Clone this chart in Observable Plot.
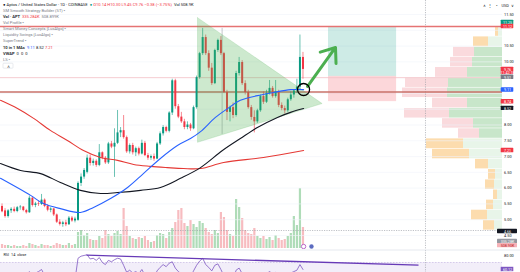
<!DOCTYPE html>
<html><head><meta charset="utf-8">
<script src="https://cdn.jsdelivr.net/npm/d3@7"></script>
<script src="https://cdn.jsdelivr.net/npm/@observablehq/plot@0.6"></script>
<style>
html,body{margin:0;padding:0;background:#fff}
#wrap{position:relative;width:520px;height:272px;overflow:hidden;background:#fff}
#wrap > div{position:absolute;overflow:hidden}
#wrap svg{display:block}
</style></head><body><div id="wrap"></div>
<script>
// ---------- DATA ----------
// daily candles [open, high, low, close]
const ohlc = [
[5.42,5.50,5.22,5.25],[5.28,5.35,5.05,5.10],[5.10,5.32,5.05,5.28],[5.28,5.38,5.20,5.33],[5.33,5.40,5.22,5.26],
[5.26,5.42,5.22,5.38],[5.38,5.45,5.30,5.40],[5.40,5.42,5.25,5.29],[5.29,5.33,5.18,5.22],[5.22,5.75,5.20,5.68],
[5.68,5.72,5.40,5.45],[5.45,5.55,5.38,5.50],[5.50,5.58,5.42,5.48],[5.48,5.80,5.45,5.62],[5.62,5.66,5.38,5.42],
[5.42,5.48,5.25,5.30],[5.30,5.38,5.22,5.34],[5.34,5.36,5.10,5.15],[5.15,5.18,4.88,4.92],[4.92,5.00,4.80,4.85],
[4.85,4.95,4.76,4.90],[4.90,4.98,4.78,4.84],[4.84,5.10,4.82,5.05],[5.05,5.10,4.92,4.96],[4.96,5.08,4.90,5.02],
[4.98,6.20,4.95,6.15],[6.15,6.45,6.05,6.35],[6.35,6.62,6.28,6.56],[6.50,7.05,6.45,6.95],[6.95,7.05,6.70,6.78],
[6.78,6.92,6.70,6.85],[6.85,6.90,6.66,6.72],[6.72,7.38,6.68,7.12],[7.12,7.15,6.90,6.95],[6.95,7.00,6.75,6.80],
[6.80,7.45,6.75,7.40],[7.40,7.48,7.25,7.30],[7.30,7.88,6.34,7.42],[7.42,8.46,7.38,7.75],[7.75,7.92,7.60,7.82],
[7.82,8.30,7.55,7.60],[7.60,7.65,7.10,7.15],[7.15,7.40,7.08,7.35],[7.35,7.42,7.05,7.12],[7.12,7.30,7.00,7.25],
[7.25,7.30,7.02,7.08],[7.08,7.52,7.05,7.42],[7.42,7.48,7.00,7.03],[7.03,7.10,6.88,6.95],[6.95,7.05,6.88,7.00],
[7.00,7.08,6.85,6.92],[6.92,7.45,6.90,7.40],[7.40,7.78,7.35,7.72],[7.72,7.98,7.65,7.92],[7.92,7.96,7.75,7.80],
[7.80,8.42,7.75,8.38],[8.38,9.45,8.30,9.40],[9.40,9.45,8.50,8.58],[8.58,8.65,8.20,8.25],[8.25,8.40,8.05,8.10],
[8.10,8.18,7.85,7.92],[7.92,8.10,7.85,8.00],[8.00,8.05,7.80,7.88],[7.88,8.60,7.85,8.55],[8.55,9.55,8.50,9.50],
[9.50,10.30,9.45,10.26],[10.26,11.06,10.20,10.77],[10.77,10.85,10.20,10.26],[10.26,10.35,9.70,9.80],[9.80,9.95,9.25,9.31],
[9.31,10.40,9.28,10.36],[10.36,10.72,10.30,10.68],[10.68,10.80,10.20,10.26],[10.26,10.30,9.00,9.03],[9.03,9.10,8.14,8.40],
[8.40,8.60,8.10,8.55],[8.55,8.70,8.20,8.30],[8.30,9.70,8.25,9.63],[9.63,10.14,9.55,9.98],[9.98,10.04,9.25,9.31],
[9.31,9.40,8.95,9.03],[9.03,9.10,8.50,8.55],[8.55,8.62,8.15,8.24],[8.24,8.45,7.75,8.10],[8.10,8.50,8.05,8.45],
[8.45,8.95,8.40,8.90],[8.90,9.05,8.65,8.72],[8.72,9.10,8.68,9.00],[9.00,9.41,8.95,9.16],[9.16,9.22,8.85,8.90],
[8.90,9.41,8.85,9.05],[9.05,9.10,8.55,8.62],[8.62,8.70,8.45,8.52],[8.52,8.60,8.35,8.45],[8.45,8.85,8.40,8.80],
[8.80,9.05,8.75,8.95],[8.95,9.12,8.85,9.08],[9.08,9.45,9.00,9.20],[9.20,10.85,9.12,10.14],[10.14,10.30,9.45,9.76]
];
// volume per candle (K)
const volumeK = [80,60,60,40,60,40,40,60,40,100,80,60,40,80,60,60,40,60,100,80,60,60,100,60,80,
320,360,260,300,180,160,160,240,200,360,280,
240,300,340,280,800,440,240,200,180,220,
200,240,160,120,140,260,300,280,200,320,
400,520,760,800,500,440,560,480,420,540,500,
400,320,280,360,300,720,620,360,280,240,
980,820,600,360,300,280,400,240,200,240,
180,220,160,260,200,160,180,240,300,640,460,1200,420];
// RSI(14) per candle
const rsi = [52,46,50,53,50,54,55,51,48,57,52,55,57,60,52,48,50,45,38,36,39,37,44,41,45,
76,79,80,81,75,76,73,77,70,67,73,71,74,76,75,66,56,59,55,57,54,60,52,49,50,48,58,63,67,64,
69,71,62,57,54,50,52,50,58,66,72,76,67,63,58,66,68,60,51,44,47,45,59,62,54,50,46,43,42,47,
52,50,54,57,54,56,49,47,46,52,55,57,59,67,60];
// moving averages [bar index, price]
const maBlue = [[-0.5,6.31],[9.4,5.77],[13.6,5.51],[19.2,5.35],[25.8,5.23],[30.1,5.39],[35.7,5.67],[41.3,6.02],[46.5,6.46],[52.1,6.94],[57.7,7.35],[62.0,7.57],[65.3,7.79],[70.2,8.24],[74.2,8.52],[78.4,8.78],[84.0,8.93],[89.3,9.03],[94.9,9.12],[99.2,9.12]];
const maBlack = [[-0.5,6.78],[6.1,6.56],[12.7,6.46],[19.2,6.18],[25.8,5.93],[32.4,5.83],[38.0,5.86],[45.6,5.93],[52.1,6.02],[58.7,6.31],[65.3,6.65],[72.5,7.19],[78.4,7.57],[84.0,7.92],[90.6,8.24],[94.9,8.40],[99.2,8.52]];
const maRed = [[-0.5,8.78],[5.1,8.52],[10.4,8.21],[15.9,7.83],[21.5,7.51],[26.8,7.19],[32.4,6.97],[38.0,6.88],[43.3,6.75],[48.8,6.69],[54.4,6.65],[59.7,6.62],[65.3,6.62],[72.9,6.81],[86.0,6.97],[99.2,7.19]];
// drawings
const trianglePts = [[64.3,11.40],[105.3,8.68],[64.3,7.45],[64.3,11.40]];
const longBox = {i1: 107.4, i2: 129.8, target: 11.12, entry: 9.54, stop: 8.74};
const levelTop = 11.12, levelPoc = 9.045, levelEntry = 9.50;
const arrowPts = {i1: 100.5, p1: 9.22, i2: 109.7, p2: 10.455};
const circlePt = {i: 99.2, p: 9.124};
const greyWick = {i: 72.4, lo: 7.70, hi: 11.06};
const crosshair = {i: 139.3, p: 4.658};
const rsiTrend = {i1: 27.8, v1: 80.4, i2: 137.0, v2: 66.1};
// visible-range volume profile rows (top price of each row)
const profileTops = [11.12,10.80,10.47,10.15,9.83,9.50,9.18,8.86,8.53,8.21,7.89,7.57,7.24,6.92,6.60,6.27,5.95,5.63,5.31,4.98];
const profileBottom = 4.66;
const profileUp = [4,14,28,30,35,54,55,35,53,29,23,39,33,14,7,8,5,9,15,8];
const profileDown = [3,15,21,22,32,43,45,35,45,31,21,37,37,13,7,9,4,7,16,11];
const profileInVA = [0,0,1,1,1,1,1,1,1,1,1,0,0,0,0,0,0,0,0,0];
// price ticks
const priceTicks = [4.5,5,5.5,6,6.5,7,7.5,8,8.5,9,9.5,10,10.5,11,11.5];
// price-scale labels
const axisLabels = [
  {p: 11.25, lines: ["11.25"], bg: "#089981", fg: "#fff"},
  {p: 11.12, lines: ["11.12"], bg: "#f23645", fg: "#fff"},
  {p: 9.76, lines: ["9.76", "11:42:18"], bg: "#f23645", fg: "#fff"},
  {p: 9.51, lines: ["9.51"], bg: "#787b86", fg: "#fff"},
  {p: 9.11, lines: ["9.11"], bg: "#2962ff", fg: "#fff"},
  {p: 8.735, lines: ["8.74"], bg: "#f23645", fg: "#fff"},
  {p: 8.526, lines: ["8.52"], bg: "#131722", fg: "#fff"},
  {p: 7.19, lines: ["7.21"], bg: "#f23645", fg: "#fff"},
  {p: 4.626, lines: ["4.66"], bg: "#131722", fg: "#fff", wide: true},
  {p: 4.31, lines: ["335.28K"], bg: "#9598a1", fg: "#fff", wide: true},
  {p: 4.18, lines: ["508.90K"], bg: "#f7b3b8", fg: "#b71c1c", wide: true}
];
const rsiTicks = [80];
const rsiLabel = {v: 60, text: "60.12"};
const legend = [
  {y: 6.2, parts: [["● ", "#131722", 600], ["Aptos / United States Dollar · 1D · COINBASE  ", "#131722", 400], ["● ", "#089981", 400], ["O10.14 H10.30 L9.45 C9.76 −0.38 (−3.75%)  ", "#f23645", 400], ["Vol 508.9K", "#131722", 400]]},
  {y: 12.2, parts: [["SM Smooth Strategy Builder (ST) ", "#787b86", 400], ["▪", "#9598a1", 400]]},
  {y: 18.2, parts: [["Vol · APT  ", "#131722", 600], ["335.284K  ", "#f23645", 400], ["508.899K", "#787b86", 400]]},
  {y: 24.3, parts: [["Vol Profile ", "#787b86", 400], ["▪", "#9598a1", 400]]},
  {y: 30.3, parts: [["Smart Money Concepts [LuxAlgo] ", "#787b86", 400], ["▪", "#9598a1", 400]]},
  {y: 36.4, parts: [["Liquidity Swings [LuxAlgo] ", "#787b86", 400], ["▪", "#9598a1", 400]]},
  {y: 42.4, parts: [["SuperTrend ", "#787b86", 400], ["▪", "#9598a1", 400]]},
  {y: 48.5, parts: [["10 in 1 MAs  ", "#131722", 600], ["9.11 ", "#2962ff", 400], ["8.52 ", "#131722", 400], ["7.21", "#f23645", 400]]},
  {y: 54.5, parts: [["VWAP  ", "#131722", 600], ["0  0  0", "#131722", 400]]},
  {y: 60.5, parts: [["LS ", "#787b86", 400], ["▪", "#9598a1", 400]]}
];

// ---------- LAYOUT ----------
const FONT = "Roboto, 'Liberation Sans', sans-serif";
const UP = "#089981", DN = "#f23645";
const PANE_W = 502, PANE_H = 249, BAR_PX = 3.04, RSI_TOP = 250, RSI_H = 22;
const xDomain = [-0.5, PANE_W / BAR_PX - 0.5];
const yDomain = [4.0562, 11.9435];
const wrap = document.getElementById("wrap");
function layer(el, left, top, w, h) {
  const d = document.createElement("div");
  d.style.left = left + "px"; d.style.top = top + "px";
  d.style.width = w + "px"; d.style.height = h + "px";
  d.appendChild(el); wrap.appendChild(d);
}
const candles = ohlc.map(([o, h, l, c], i) => ({i, o, h, l, c, up: c >= o, v: volumeK[i]}));
const upC = candles.filter(d => d.up), dnC = candles.filter(d => !d.up);

// volume profile layer
const rows = profileTops.map((t, k) => ({hi: t, lo: k + 1 < profileTops.length ? profileTops[k + 1] : profileBottom, up: profileUp[k], down: profileDown[k], va: profileInVA[k]}));
const profile = Plot.plot({
  width: PANE_W, height: PANE_H, margin: 0,
  x: {domain: [0, PANE_W], reverse: true, axis: null},
  y: {domain: yDomain, axis: null},
  style: {background: "transparent"},
  marks: [
    Plot.rect(rows, {x1: 0, x2: "up", y1: "lo", y2: "hi", fill: d => d.va ? "#c8e6ca" : "#e8f5e9", insetTop: 0.3, insetBottom: 0.3}),
    Plot.rect(rows, {x1: "up", x2: d => d.up + d.down, y1: "lo", y2: "hi", fill: d => d.va ? "#fadadd" : "#fcdcae", insetTop: 0.3, insetBottom: 0.3})
  ]
});
layer(profile, 0, 0, PANE_W, PANE_H);

// volume layer
const vol = Plot.plot({
  width: PANE_W, height: PANE_H, margin: 0,
  x: {domain: xDomain, axis: null},
  y: {domain: [0, 1200], range: [248, 188], axis: null},
  style: {background: "transparent"},
  marks: [
    Plot.ruleX(upC, {x: "i", y1: 0, y2: "v", stroke: "#afdcb8", strokeWidth: 2.2}),
    Plot.ruleX(dnC, {x: "i", y1: 0, y2: "v", stroke: "#f7bcc0", strokeWidth: 2.2})
  ]
});
layer(vol, 0, 0, PANE_W, PANE_H);

// main price layer
const dash = {stroke: "#9598a1", strokeDasharray: "1.2,1.2", strokeWidth: 0.6};
const main = Plot.plot({
  width: PANE_W, height: PANE_H, margin: 0,
  x: {domain: xDomain, axis: null},
  y: {domain: yDomain, axis: null},
  style: {background: "transparent"},
  marks: [
    Plot.ruleY(priceTicks, {stroke: "#f0f3fa", strokeWidth: 0.6}),
    Plot.ruleY([crosshair.p], dash),
    Plot.ruleX([crosshair.i], dash),
    Plot.rect([longBox], {x1: "i1", x2: "i2", y1: "entry", y2: "target", fill: "rgba(8,153,129,0.2)"}),
    Plot.rect([longBox], {x1: "i1", x2: "i2", y1: "stop", y2: "entry", fill: "rgba(242,54,69,0.2)"}),
    Plot.ruleY([levelEntry], {stroke: "#f6c3c6", strokeWidth: 0.8}),
    Plot.ruleY([levelTop], {stroke: "#e57373", strokeWidth: 1.3}),
    Plot.ruleY([levelPoc], {stroke: "#c8726a", strokeWidth: 1.3}),
    Plot.ruleX([greyWick], {x: "i", y1: "lo", y2: "hi", stroke: "#a0a3ab", strokeWidth: 0.6}),
    Plot.ruleX(upC, {x: "i", y1: "l", y2: "h", stroke: UP, strokeWidth: 0.6}),
    Plot.ruleX(dnC, {x: "i", y1: "l", y2: "h", stroke: DN, strokeWidth: 0.6}),
    Plot.ruleX(upC, {x: "i", y1: "o", y2: "c", stroke: UP, strokeWidth: 2}),
    Plot.ruleX(dnC, {x: "i", y1: "o", y2: "c", stroke: DN, strokeWidth: 2}),
    Plot.line(trianglePts, {fill: "rgba(76,175,80,0.28)", stroke: "rgba(76,175,80,0.35)", strokeWidth: 0.5}),
    Plot.line(maRed, {stroke: "#e53935", strokeWidth: 1.1, curve: "catmull-rom"}),
    Plot.line(maBlack, {stroke: "#131722", strokeWidth: 1.1, curve: "catmull-rom"}),
    Plot.line(maBlue, {stroke: "#2962ff", strokeWidth: 1.1, curve: "catmull-rom"}),
    Plot.arrow([arrowPts], {x1: "i1", y1: "p1", x2: "i2", y2: "p2", stroke: "#4caf50", strokeWidth: 3, headLength: 10, headAngle: 75}),
    Plot.dot([circlePt], {x: "i", y: "p", r: 6, stroke: "#000", strokeWidth: 1.3, fill: "none"}),
    Plot.dot([{i: 99.2}], {x: "i", frameAnchor: "bottom", dy: -3, r: 2.2, stroke: "#ab47bc", strokeWidth: 0.8, fill: "#fff"}),
    Plot.dot([{i: 101.8}], {x: "i", frameAnchor: "bottom", dy: -3, r: 2.2, fill: "#5c6bc0"})
  ]
});
layer(main, 0, 0, PANE_W, PANE_H);

// RSI layer
const rsiPts = rsi.map((v, i) => [i, v]);
const rsiPlot = Plot.plot({
  width: PANE_W, height: RSI_H, margin: 0,
  x: {domain: xDomain, axis: null},
  y: {domain: [55.7, 87.1], axis: null},
  style: {background: "transparent"},
  marks: [
    Plot.rect([0], {x1: xDomain[0], x2: xDomain[1], y1: 30, y2: 70, fill: "rgba(126,87,194,0.1)", clip: true}),
    Plot.ruleY([70], {stroke: "#b9a7dc", strokeDasharray: "1.5,1.5", strokeWidth: 0.5}),
    Plot.ruleX([crosshair.i], dash),
    Plot.line(rsiPts, {stroke: "#7e57c2", strokeWidth: 0.8, clip: true}),
    Plot.link([rsiTrend], {x1: "i1", y1: "v1", x2: "i2", y2: "v2", stroke: "#673ab7", strokeWidth: 1.3})
  ]
});
layer(rsiPlot, 0, RSI_TOP, PANE_W, RSI_H);

// overlay: price scale labels, legend text
const ys = main.scale("y"), rs = rsiPlot.scale("y");
const labelBoxes = axisLabels.map(d => {
  const h = d.lines.length > 1 ? 7.4 : 4.4;
  const top = d.lines.length > 1 ? ys.apply(d.p) - 2.3 : ys.apply(d.p) - h / 2;
  return {...d, top, bottom: top + h, x1: d.wide ? 497 : 500.7, x2: d.wide ? 517 : 513.3};
});
const labelTexts = labelBoxes.flatMap(d => d.lines.map((t, k) => ({t, fg: d.fg, y: d.top + 2.25 + k * 3.3})));
const tickRows = priceTicks.map(p => ({p, y: ys.apply(p)}))
  .filter(t => t.y > 3 && !labelBoxes.some(b => t.y > b.top - 1.6 && t.y < b.bottom + 1.6));
const rsiTickRows = rsiTicks.map(v => ({t: v.toFixed(2), y: RSI_TOP + rs.apply(v)}));
const rsiLab = {t: rsiLabel.text, y: RSI_TOP + rs.apply(rsiLabel.v)};
const overlay = Plot.plot({
  width: 520, height: 272, margin: 0,
  x: {domain: [0, 520], axis: null},
  y: {domain: [0, 272], range: [0, 272], axis: null},
  color: {type: "identity"},
  style: {background: "transparent", fontFamily: FONT},
  marks: [
    Plot.ruleY([249.5], {x1: 0, x2: 520, stroke: "#e0e3eb", strokeWidth: 0.8}),
    Plot.text(tickRows, {x: 503.5, y: "y", text: d => d.p.toFixed(2), textAnchor: "start", fontSize: 3.9, fill: "#131722"}),
    Plot.text(rsiTickRows, {x: 503.5, y: "y", text: "t", textAnchor: "start", fontSize: 3.9, fill: "#131722"}),
    Plot.rect(labelBoxes, {x1: "x1", x2: "x2", y1: "top", y2: "bottom", fill: "bg", rx: 0.6}),
    Plot.text(labelTexts, {x: 507, y: "y", text: "t", fill: "fg", fontSize: 3.7}),
    Plot.rect([rsiLab], {x1: 500.7, x2: 513.3, y1: d => d.y - 2.2, y2: d => d.y + 2.2, fill: "#7e57c2"}),
    Plot.text([rsiLab], {x: 507, y: "y", text: "t", fill: "#fff", fontSize: 3.7}),
    Plot.text(["RSI  14  close"], {x: 3, y: 254, textAnchor: "start", fontSize: 3.8, fill: "#131722"}),
    Plot.text(["∧   ⋮   ◔    USD  ∨"], {x: 482, y: 5.5, textAnchor: "start", fontSize: 3.9, fill: "#131722"}),
    Plot.rect([0], {x1: 3, x2: 13, y1: 63.2, y2: 68.2, fill: "#fff", stroke: "#d1d4dc", strokeWidth: 0.5, rx: 0.8}),
    Plot.text(["˄"], {x: 8, y: 66.6, fontSize: 4.5, fill: "#131722"})
  ]
});
const svg = d3.select(overlay);
legend.forEach(line => {
  const t = svg.append("text").attr("x", 3).attr("y", line.y)
    .attr("text-anchor", "start")
    .attr("font-size", 4.1).attr("font-family", FONT).attr("xml:space", "preserve");
  line.parts.forEach(([txt, col, w]) => t.append("tspan").attr("fill", col).attr("font-weight", w).text(txt));
});
layer(overlay, 0, 0, 520, 272);
</script></body></html>
